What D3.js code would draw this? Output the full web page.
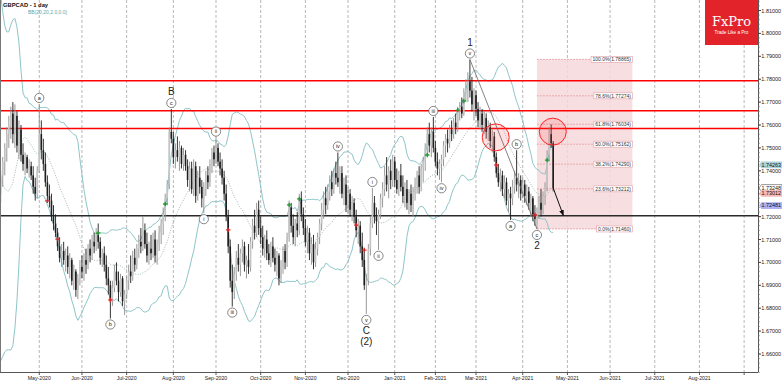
<!DOCTYPE html>
<html><head><meta charset="utf-8">
<script src="https://cdn.jsdelivr.net/npm/d3@7"></script>
<style>body{margin:0;background:#fff}svg{display:block;font-family:"Liberation Sans",Arial,sans-serif}</style>
</head><body><svg id="c" width="782" height="382"></svg>
<script>
// ---------------- DATA ----------------
const title = "GBPCAD - 1 day";
const indicatorLabel = "BB(20,20,2.0,0.0)";
const firstBarDate = "2020-04-06";
const lastCalendarDate = "2021-09-30";
const noTradeDays = ["2021-01-01"];
// Mar 9 - Apr 3 2020 closes (only feed the Bollinger bands)
const preCloses = [1.7950,1.7950,1.7900,1.7750,1.7600,1.7350,1.7150,1.6800,1.6700,1.6650,1.6700,1.6950,1.7300,1.7600,1.7700,1.7600,1.7650,1.7620,1.7550,1.7450];
const opens = [
1.7300,1.7380,1.7440,1.7500,1.7560,1.7600,1.7650,1.7560,1.7640,1.7510,
1.7580,1.7470,1.7430,1.7460,1.7410,1.7420,1.7380,1.7330,1.7300,1.7400,
1.7560,1.7490,1.7430,1.7350,1.7290,1.7270,1.7200,1.7170,1.7130,1.7070,
1.7020,1.7050,1.7010,1.7030,1.6980,1.7010,1.6920,1.6960,1.6880,1.6930,
1.6980,1.6960,1.7010,1.6990,1.7060,1.7030,1.7090,1.7070,1.7120,1.7090,
1.7020,1.7040,1.6990,1.6930,1.6900,1.6830,1.6890,1.6960,1.6920,1.6870,
1.6930,1.6830,1.6860,1.6920,1.6960,1.6940,1.7020,1.6990,1.7060,1.7090,
1.7070,1.7140,1.7080,1.7030,1.7060,1.7040,1.7100,1.7030,1.7080,1.7130,
1.7170,1.7210,1.7280,1.7340,1.7570,1.7540,1.7460,1.7490,1.7460,1.7500,
1.7430,1.7470,1.7420,1.7360,1.7410,1.7320,1.7420,1.7290,1.7370,1.7330,
1.7280,1.7320,1.7380,1.7350,1.7430,1.7480,1.7450,1.7500,1.7440,1.7410,
1.7370,1.7300,1.7200,1.7070,1.6920,1.6870,1.6950,1.7020,1.6990,1.7040,
1.7070,1.6990,1.7010,1.6980,1.7090,1.7160,1.7130,1.7230,1.7150,1.7110,
1.7060,1.7100,1.7040,1.7010,1.7070,1.7020,1.6990,1.7030,1.6930,1.6980,
1.7050,1.7000,1.7110,1.7240,1.7160,1.7110,1.7170,1.7140,1.7280,1.7210,
1.7150,1.7090,1.7130,1.7040,1.7080,1.7000,1.7060,1.7110,1.7170,1.7230,
1.7280,1.7250,1.7310,1.7350,1.7320,1.7390,1.7370,1.7350,1.7390,1.7300,
1.7340,1.7250,1.7300,1.7230,1.7260,1.7200,1.7140,1.7160,1.7070,1.7010,
1.6900,1.6920,1.7060,1.7170,1.7260,1.7200,1.7180,1.7210,1.7280,1.7320,
1.7380,1.7340,1.7400,1.7360,1.7440,1.7360,1.7320,1.7380,1.7330,1.7290,
1.7320,1.7260,1.7300,1.7250,1.7300,1.7340,1.7380,1.7330,1.7410,1.7440,
1.7500,1.7560,1.7510,1.7570,1.7500,1.7440,1.7410,1.7430,1.7450,1.7510,
1.7540,1.7520,1.7580,1.7560,1.7610,1.7590,1.7660,1.7680,1.7650,1.7740,
1.7760,1.7790,1.7750,1.7690,1.7730,1.7670,1.7620,1.7650,1.7600,1.7630,
1.7570,1.7590,1.7530,1.7550,1.7460,1.7390,1.7350,1.7380,1.7320,1.7350,
1.7270,1.7300,1.7280,1.7330,1.7370,1.7340,1.7360,1.7300,1.7340,1.7290,
1.7310,1.7260,1.7280,1.7210,1.7190,1.7220,1.7260,1.7230,1.7290,1.7330,
1.7470,1.7560,1.7520];
const highs = [
1.7400,1.7460,1.7520,1.7590,1.7640,1.7680,1.7700,1.7690,1.7660,1.7620,
1.7600,1.7520,1.7480,1.7470,1.7450,1.7440,1.7420,1.7370,1.7420,1.7692,
1.7620,1.7540,1.7480,1.7380,1.7340,1.7300,1.7250,1.7210,1.7150,1.7110,
1.7080,1.7090,1.7060,1.7070,1.7040,1.7020,1.6990,1.6970,1.6950,1.7010,
1.7030,1.7040,1.7060,1.7080,1.7100,1.7120,1.7130,1.7150,1.7170,1.7110,
1.7060,1.7070,1.7030,1.6980,1.6920,1.6920,1.6990,1.7000,1.6960,1.6950,
1.6940,1.6880,1.6940,1.6990,1.7030,1.7050,1.7060,1.7080,1.7120,1.7150,
1.7200,1.7170,1.7130,1.7090,1.7120,1.7130,1.7140,1.7100,1.7160,1.7190,
1.7240,1.7300,1.7360,1.7590,1.7670,1.7570,1.7520,1.7550,1.7530,1.7510,
1.7500,1.7490,1.7450,1.7440,1.7440,1.7450,1.7440,1.7400,1.7420,1.7360,
1.7350,1.7400,1.7420,1.7450,1.7500,1.7510,1.7545,1.7520,1.7480,1.7450,
1.7400,1.7340,1.7230,1.7100,1.6990,1.6980,1.7050,1.7080,1.7060,1.7100,
1.7090,1.7030,1.7080,1.7110,1.7190,1.7230,1.7260,1.7270,1.7200,1.7160,
1.7120,1.7140,1.7080,1.7090,1.7110,1.7060,1.7050,1.7040,1.7010,1.7070,
1.7080,1.7130,1.7270,1.7260,1.7210,1.7190,1.7220,1.7300,1.7310,1.7240,
1.7190,1.7160,1.7150,1.7110,1.7120,1.7090,1.7130,1.7190,1.7260,1.7310,
1.7330,1.7340,1.7380,1.7400,1.7410,1.7440,1.7480,1.7420,1.7420,1.7370,
1.7380,1.7330,1.7320,1.7290,1.7280,1.7230,1.7190,1.7180,1.7130,1.7060,
1.6950,1.7080,1.7200,1.7325,1.7290,1.7240,1.7230,1.7300,1.7350,1.7420,
1.7460,1.7420,1.7450,1.7470,1.7460,1.7410,1.7400,1.7430,1.7380,1.7350,
1.7360,1.7320,1.7340,1.7330,1.7370,1.7400,1.7420,1.7430,1.7460,1.7520,
1.7590,1.7610,1.7590,1.7635,1.7530,1.7480,1.7450,1.7470,1.7530,1.7560,
1.7580,1.7600,1.7620,1.7630,1.7650,1.7680,1.7700,1.7720,1.7760,1.7800,
1.7830,1.7886,1.7810,1.7760,1.7750,1.7700,1.7680,1.7670,1.7660,1.7650,
1.7620,1.7610,1.7580,1.7570,1.7480,1.7430,1.7410,1.7400,1.7380,1.7370,
1.7320,1.7330,1.7360,1.7400,1.7490,1.7390,1.7380,1.7370,1.7360,1.7340,
1.7330,1.7300,1.7290,1.7250,1.7240,1.7290,1.7320,1.7310,1.7350,1.7490,
1.7590,1.7603,1.7530];
const lows = [
1.7260,1.7330,1.7380,1.7440,1.7500,1.7540,1.7520,1.7500,1.7480,1.7450,
1.7440,1.7400,1.7380,1.7390,1.7370,1.7360,1.7300,1.7270,1.7280,1.7390,
1.7450,1.7400,1.7330,1.7260,1.7240,1.7180,1.7140,1.7110,1.7050,1.7000,
1.6980,1.6990,1.6960,1.6950,1.6930,1.6900,1.6880,1.6850,1.6840,1.6900,
1.6930,1.6920,1.6950,1.6970,1.7000,1.7010,1.7040,1.7050,1.7060,1.6990,
1.6980,1.6960,1.6900,1.6860,1.6755,1.6810,1.6870,1.6900,1.6830,1.6850,
1.6810,1.6770,1.6840,1.6880,1.6910,1.6920,1.6960,1.6970,1.7020,1.7040,
1.7050,1.7060,1.7000,1.6990,1.7010,1.7020,1.7000,1.6990,1.7050,1.7080,
1.7120,1.7180,1.7250,1.7320,1.7520,1.7430,1.7410,1.7440,1.7400,1.7410,
1.7400,1.7400,1.7330,1.7310,1.7300,1.7290,1.7260,1.7270,1.7300,1.7240,
1.7215,1.7290,1.7320,1.7330,1.7390,1.7420,1.7430,1.7420,1.7380,1.7340,
1.7270,1.7180,1.7040,1.6890,1.6807,1.6840,1.6920,1.6960,1.6940,1.7000,
1.6960,1.6930,1.6950,1.6960,1.7060,1.7100,1.7110,1.7120,1.7080,1.7030,
1.7020,1.7010,1.6990,1.6980,1.7000,1.6960,1.6940,1.6900,1.6910,1.6950,
1.6970,1.6980,1.7090,1.7130,1.7080,1.7070,1.7110,1.7120,1.7180,1.7120,
1.7070,1.7040,1.7010,1.6990,1.6970,1.6980,1.7030,1.7080,1.7140,1.7190,
1.7210,1.7230,1.7270,1.7290,1.7300,1.7340,1.7330,1.7300,1.7280,1.7250,
1.7220,1.7210,1.7200,1.7180,1.7170,1.7110,1.7080,1.7040,1.6980,1.6880,
1.6775,1.6900,1.7030,1.7150,1.7170,1.7120,1.7055,1.7190,1.7240,1.7290,
1.7310,1.7280,1.7320,1.7330,1.7330,1.7300,1.7290,1.7310,1.7260,1.7240,
1.7230,1.7210,1.7220,1.7200,1.7270,1.7300,1.7300,1.7310,1.7350,1.7400,
1.7470,1.7480,1.7460,1.7480,1.7420,1.7380,1.7360,1.7350,1.7420,1.7460,
1.7480,1.7500,1.7530,1.7540,1.7560,1.7570,1.7620,1.7630,1.7640,1.7700,
1.7700,1.7720,1.7660,1.7620,1.7640,1.7590,1.7580,1.7570,1.7560,1.7540,
1.7530,1.7500,1.7480,1.7440,1.7370,1.7330,1.7310,1.7290,1.7280,1.7250,
1.7220,1.7185,1.7250,1.7300,1.7310,1.7280,1.7270,1.7280,1.7260,1.7250,
1.7230,1.7200,1.7180,1.7160,1.7146,1.7190,1.7200,1.7210,1.7250,1.7310,
1.7440,1.7500,1.7310];
const closes = [
1.7380,1.7440,1.7500,1.7560,1.7600,1.7650,1.7560,1.7640,1.7510,1.7580,
1.7470,1.7430,1.7460,1.7410,1.7420,1.7380,1.7330,1.7300,1.7400,1.7560,
1.7490,1.7430,1.7350,1.7290,1.7270,1.7200,1.7170,1.7130,1.7070,1.7020,
1.7050,1.7010,1.7030,1.6980,1.7010,1.6920,1.6960,1.6880,1.6930,1.6980,
1.6960,1.7010,1.6990,1.7060,1.7030,1.7090,1.7070,1.7120,1.7090,1.7020,
1.7040,1.6990,1.6930,1.6900,1.6830,1.6890,1.6960,1.6920,1.6870,1.6930,
1.6830,1.6860,1.6920,1.6960,1.6940,1.7020,1.6990,1.7060,1.7090,1.7070,
1.7140,1.7080,1.7030,1.7060,1.7040,1.7100,1.7030,1.7080,1.7130,1.7170,
1.7210,1.7280,1.7340,1.7570,1.7540,1.7460,1.7490,1.7460,1.7500,1.7430,
1.7470,1.7420,1.7360,1.7410,1.7320,1.7420,1.7290,1.7370,1.7330,1.7280,
1.7320,1.7380,1.7350,1.7430,1.7480,1.7450,1.7500,1.7440,1.7410,1.7370,
1.7300,1.7200,1.7070,1.6920,1.6870,1.6950,1.7020,1.6990,1.7040,1.7070,
1.6990,1.7010,1.6980,1.7090,1.7160,1.7130,1.7230,1.7150,1.7110,1.7060,
1.7100,1.7040,1.7010,1.7070,1.7020,1.6990,1.7030,1.6930,1.6980,1.7050,
1.7000,1.7110,1.7240,1.7160,1.7110,1.7170,1.7140,1.7280,1.7210,1.7150,
1.7090,1.7130,1.7040,1.7080,1.7000,1.7060,1.7110,1.7170,1.7230,1.7280,
1.7250,1.7310,1.7350,1.7320,1.7390,1.7370,1.7350,1.7390,1.7300,1.7340,
1.7250,1.7300,1.7230,1.7260,1.7200,1.7140,1.7160,1.7070,1.7010,1.6900,
1.6920,1.7060,1.7170,1.7260,1.7200,1.7180,1.7210,1.7280,1.7320,1.7380,
1.7340,1.7400,1.7360,1.7440,1.7360,1.7320,1.7380,1.7330,1.7290,1.7320,
1.7260,1.7300,1.7250,1.7300,1.7340,1.7380,1.7330,1.7410,1.7440,1.7500,
1.7560,1.7510,1.7570,1.7500,1.7440,1.7410,1.7430,1.7450,1.7510,1.7540,
1.7520,1.7580,1.7560,1.7610,1.7590,1.7660,1.7680,1.7650,1.7740,1.7760,
1.7790,1.7750,1.7690,1.7730,1.7670,1.7620,1.7650,1.7600,1.7630,1.7570,
1.7590,1.7530,1.7550,1.7460,1.7390,1.7350,1.7380,1.7320,1.7350,1.7270,
1.7300,1.7280,1.7330,1.7370,1.7340,1.7360,1.7300,1.7340,1.7290,1.7310,
1.7260,1.7280,1.7210,1.7190,1.7220,1.7260,1.7230,1.7290,1.7330,1.7470,
1.7560,1.7520,1.7325];
// horizontal levels
const resistanceLevels = [1.7793, 1.7662, 1.7585];
const supportLevel = 1.7204;
// signal markers (bar index, price)
const greenMarkIdx = [48, 81, 142, 147, 210, 225, 228, 269];
const greenMarkPx  = [1.7128, 1.7255, 1.7251, 1.7277, 1.7469, 1.7665, 1.7705, 1.7447];
const redMarkIdx = [23, 28, 54, 112, 175, 179, 244, 263];
const redMarkPx  = [1.7269, 1.7102, 1.6836, 1.7142, 1.7163, 1.7054, 1.7425, 1.7207];
// Elliott wave labels
const waveIdx  = [19, 54, 84, 100, 106, 114, 166, 180, 183, 186, 213, 217, 231, 251, 254, 264];
const waveText = ["a","b","c","i","ii","iii","iv","v","i","ii","iii","iv","v","a","b","c"];
const waveSide = ["up","down","up","down","up","down","up","down","up","down","up","down","up","down","up","down"];
const degreeIdx  = [84, 180, 180, 231, 264];
const degreeText = ["B", "C", "(2)", "1", "2"];
const degreeSide = ["up", "down", "down2", "up", "down"];
// Fibonacci retracement
const fibStartIdx = 264, fibEndIdx = 311;
const fibRatios = ["100.0%", "78.6%", "61.8%", "50.0%", "38.2%", "23.6%", "0.0%"];
const fibPrices = [1.78865, 1.77274, 1.76034, 1.75162, 1.74290, 1.73212, 1.71460];
// highlight circles (bar index, price)
const circleIdx = [243.7, 271.8];
const circlePx  = [1.7546, 1.7571];
// wave line and projection arrow
const waveLineIdx = [231, 264];
const waveLinePx  = [1.7886, 1.7146];
const arrowIdx = [272, 277];
const arrowPx  = [1.7325, 1.7205];
// right-hand price tags
const tagValues = [1.74263, 1.73248, 1.73012, 1.72481];
const tagColors = ["#aad4dc", "#ffffff", "#f3b9bb", "#aeb0f2"];

// ---------------- DRAW ----------------
const svg = d3.select("#c");
const PR = 758, PB = 372;
const parse = d3.timeParse("%Y-%m-%d");
const fmtDay = d3.timeFormat("%Y-%m-%d");
const days = d3.timeDay.range(parse(firstBarDate), d3.timeDay.offset(parse(lastCalendarDate), 1))
  .filter(d => d.getDay() !== 0 && d.getDay() !== 6 && !noTradeDays.includes(fmtDay(d)));
const N = closes.length;
const x = d3.scaleLinear().domain([0, N - 1]).range([0.7, 553.2]);
const y = d3.scaleLinear().domain([1.66, 1.81]).range([354, 10.5]);

svg.append("defs").html(`<clipPath id="pc"><rect x="0" y="0" width="${PR}" height="${PB}"/></clipPath>
<marker id="ah" viewBox="0 0 10 10" refX="9" refY="5" markerWidth="6" markerHeight="6" orient="auto"><path d="M0,1 L10,5 L0,9 z" fill="#111"/></marker>`);

// month gridlines
const monthStarts = [];
days.forEach((d, i) => { if (i > 0 && d.getMonth() !== days[i-1].getMonth()) monthStarts.push({i, d}); });
const g = svg.append("g");
g.selectAll("line.grid").data(monthStarts).join("line")
  .attr("x1", d => x(d.i)).attr("x2", d => x(d.i)).attr("y1", 0).attr("y2", PB)
  .attr("stroke", "#9a9a9a").attr("stroke-width", 0.7).attr("stroke-dasharray", "3,2");

const plot = svg.append("g").attr("clip-path", "url(#pc)");

// fib zone
const fx0 = x(fibStartIdx), fx1 = x(fibEndIdx);
plot.append("rect").attr("x", fx0).attr("y", y(fibPrices[0])).attr("width", fx1 - fx0)
  .attr("height", y(fibPrices[fibPrices.length-1]) - y(fibPrices[0])).attr("fill", "#f6d9dc").attr("opacity", 0.85);
plot.selectAll("line.fib").data(fibPrices).join("line")
  .attr("x1", fx0).attr("x2", fx1).attr("y1", d => y(d)).attr("y2", d => y(d))
  .attr("stroke", "#e59aa0").attr("stroke-width", 0.8).attr("stroke-dasharray", "2,1");

// Bollinger bands
const allC = preCloses.concat(closes);
const bb = closes.map((c, i) => {
  const w = allC.slice(preCloses.length + i - 19, preCloses.length + i + 1);
  const m = d3.mean(w); const sd = Math.sqrt(d3.mean(w.map(v => (v - m) ** 2)));
  return {i, m, u: m + 2 * sd, l: m - 2 * sd};
});
const band = k => d3.line().x(d => x(d.i)).y(d => y(d[k]));
plot.append("path").attr("d", band("u")(bb)).attr("fill", "none").attr("stroke", "#8ec5c9").attr("stroke-width", 1);
plot.append("path").attr("d", band("l")(bb)).attr("fill", "none").attr("stroke", "#8ec5c9").attr("stroke-width", 1);
plot.append("path").attr("d", band("m")(bb)).attr("fill", "none").attr("stroke", "#8aa3a5").attr("stroke-width", 0.8).attr("stroke-dasharray", "1,1.5");

// horizontal levels
plot.selectAll("line.res").data(resistanceLevels).join("line")
  .attr("x1", 0).attr("x2", PR).attr("y1", d => y(d)).attr("y2", d => y(d))
  .attr("stroke", "#ff0000").attr("stroke-width", 1.6);
plot.append("line").attr("x1", 0).attr("x2", PR).attr("y1", y(supportLevel)).attr("y2", y(supportLevel))
  .attr("stroke", "#2a2a2a").attr("stroke-width", 1.5);

// candles
const bars = d3.range(N).map(i => ({i, o: opens[i], h: highs[i], l: lows[i], c: closes[i]}));
const cg = plot.append("g");
cg.selectAll("line.wick").data(bars).join("line")
  .attr("x1", d => x(d.i)).attr("x2", d => x(d.i)).attr("y1", d => y(d.h)).attr("y2", d => y(d.l))
  .attr("stroke", d => d.c >= d.o ? "#8c8c8c" : "#1e1e1e").attr("stroke-width", 0.9);
cg.selectAll("rect.body").data(bars).join("rect")
  .attr("x", d => x(d.i) - 0.8).attr("width", 1.6)
  .attr("y", d => y(Math.max(d.o, d.c))).attr("height", d => Math.max(1, Math.abs(y(d.o) - y(d.c))))
  .attr("fill", d => d.c >= d.o ? "#c4c4c4" : "#1e1e1e");

// circles of interest
plot.selectAll("circle.hl").data(circleIdx.map((v, k) => ({i: v, p: circlePx[k]}))).join("circle")
  .attr("cx", d => x(d.i)).attr("cy", d => y(d.p)).attr("r", 13.5)
  .attr("fill", "rgba(255,70,70,0.16)").attr("stroke", "#f22").attr("stroke-width", 1);

// wave line & arrow
plot.append("line").attr("x1", x(waveLineIdx[0])).attr("y1", y(waveLinePx[0]))
  .attr("x2", x(waveLineIdx[1])).attr("y2", y(waveLinePx[1])).attr("stroke", "#666").attr("stroke-width", 0.8);
plot.append("line").attr("x1", x(arrowIdx[0])).attr("y1", y(arrowPx[0]))
  .attr("x2", x(arrowIdx[1])).attr("y2", y(arrowPx[1])).attr("stroke", "#111").attr("stroke-width", 1)
  .attr("marker-end", "url(#ah)");

// markers
const cross = (sel, idx, px, col) => sel.selectAll(null).data(idx.map((v, k) => ({i: v, p: px[k]}))).join("path")
  .attr("d", d => `M${x(d.i)-2.2},${y(d.p)}h4.4M${x(d.i)},${y(d.p)-2.2}v4.4`)
  .attr("stroke", col).attr("stroke-width", 1.3);
cross(plot.append("g"), greenMarkIdx, greenMarkPx, "#1d9a2a");
cross(plot.append("g"), redMarkIdx, redMarkPx, "#d42a2a");

// fib labels
const fl = plot.append("g");
fibPrices.forEach((p, k) => {
  const t = `${fibRatios[k]}(${p.toFixed(5)})`;
  const tx = fl.append("text").attr("x", fx1 - 1.5).attr("y", y(p) + 1.8).attr("text-anchor", "end")
    .attr("font-size", 5).attr("fill", "#333").text(t);
  const bw = tx.node().getComputedTextLength() + 3;
  fl.insert("rect", "text").attr("x", fx1 - bw).attr("y", y(p) - 3).attr("width", bw).attr("height", 6)
    .attr("fill", "#fff").attr("stroke", "#e0a0a5").attr("stroke-width", 0.6);
});

// wave labels
const wl = svg.append("g");
waveIdx.forEach((i, k) => {
  const cy = waveSide[k] === "up" ? y(highs[i]) - 6 : y(lows[i]) + 6;
  wl.append("circle").attr("cx", x(i)).attr("cy", cy).attr("r", 4.6).attr("fill", "#fff").attr("stroke", "#555").attr("stroke-width", 0.7);
  wl.append("text").attr("x", x(i)).attr("y", cy + 1.8).attr("text-anchor", "middle").attr("font-size", 5.5).attr("fill", "#222").text(waveText[k]);
});
degreeIdx.forEach((i, k) => {
  const s = degreeSide[k];
  const cy = s === "up" ? y(highs[i]) - 17 : s === "down" ? y(lows[i]) + 16.5 : y(lows[i]) + 27.5;
  wl.append("text").attr("x", x(i)).attr("y", cy + 3.5).attr("text-anchor", "middle").attr("font-size", 10).attr("fill", "#222").text(degreeText[k]);
});

// frame + axes
svg.append("line").attr("x1", 0.5).attr("x2", 0.5).attr("y1", 0).attr("y2", PB).attr("stroke", "#777");
svg.append("line").attr("x1", 0).attr("x2", PR).attr("y1", PB + 0.5).attr("y2", PB + 0.5).attr("stroke", "#555");
svg.append("line").attr("x1", PR + 0.5).attr("x2", PR + 0.5).attr("y1", 0).attr("y2", PB).attr("stroke", "#555");
const fmtM = d3.timeFormat("%b-%Y");
const xa = svg.append("g");
monthStarts.forEach(m => {
  const xx = x(m.i);
  xa.append("line").attr("x1", xx).attr("x2", xx).attr("y1", PB).attr("y2", PB + 3).attr("stroke", "#555");
  if (xx + 16 < PR) xa.append("text").attr("x", xx).attr("y", 379.5).attr("text-anchor", "middle")
    .attr("font-size", 5.2).attr("fill", "#222").text(fmtM(m.d));
});
const ya = svg.append("g");
d3.range(1.652, 1.815, 0.002).forEach(v => {
  ya.append("line").attr("x1", PR).attr("x2", PR + 2).attr("y1", y(v)).attr("y2", y(v)).attr("stroke", "#777").attr("stroke-width", 0.6);
});
y.ticks(16).forEach(v => {
  ya.append("line").attr("x1", PR).attr("x2", PR + 3).attr("y1", y(v)).attr("y2", y(v)).attr("stroke", "#444");
  ya.append("text").attr("x", PR + 3.3).attr("y", y(v) + 2).attr("font-size", 5.5).attr("fill", "#222").text(d3.format(".5f")(v));
});
// price tags
tagValues.forEach((v, k) => {
  const ty = y(v);
  ya.append("path").attr("d", `M${PR+1},${ty} l2.5,-3.4 h20.5 v6.8 h-20.5 z`).attr("fill", tagColors[k]).attr("stroke", k === 1 ? "#333" : "none").attr("stroke-width", 0.5);
  ya.append("text").attr("x", PR + 3.6).attr("y", ty + 1.9).attr("font-size", 5.4).attr("fill", "#111").text(v.toFixed(5));
});

// title & indicator label
svg.append("text").attr("x", 3).attr("y", 7).attr("font-size", 5.8).attr("font-weight", "bold").attr("fill", "#111").text(title);
svg.append("text").attr("x", 28).attr("y", 14).attr("font-size", 5).attr("fill", "#5aa7ae").text(indicatorLabel);

// logo
svg.append("rect").attr("x", 705).attr("y", 0).attr("width", PR - 705).attr("height", 45).attr("fill", "#e3232a");
svg.append("text").attr("x", 731.5).attr("y", 26).attr("text-anchor", "middle").attr("font-family", "'DejaVu Serif','Liberation Serif',serif")
  .attr("font-size", 13).attr("fill", "#fff").text("FxPro");
svg.append("text").attr("x", 731.5).attr("y", 34).attr("text-anchor", "middle").attr("font-size", 4.6).attr("fill", "#fff").text("Trade Like a Pro");
</script></body></html>
